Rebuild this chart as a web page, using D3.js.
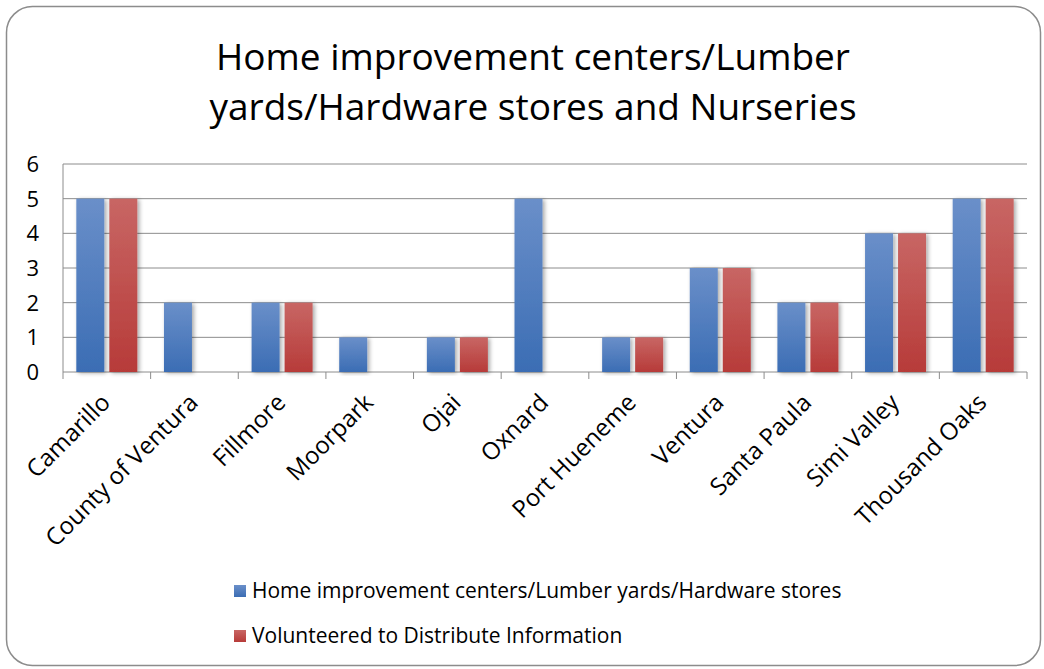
<!DOCTYPE html>
<html lang='en'>
<head>
<meta charset='utf-8'>
<title>Home improvement centers</title>
<script src='https://d3js.org/d3.v7.min.js'></script>
<style>
  body { margin: 0; background: #fff; }
  text { font-family: 'Open Sans', 'Noto Sans', sans-serif; fill: #000; }
</style>
</head>
<body>
<script>
'use strict'
const cities = ['Camarillo', 'County of Ventura', 'Fillmore', 'Moorpark', 'Ojai', 'Oxnard',
  'Port Hueneme', 'Ventura', 'Santa Paula', 'Simi Valley', 'Thousand Oaks']
const stores = [5, 2, 2, 1, 1, 5, 1, 3, 2, 4, 5]
const volunteered = [5, 0, 2, 0, 1, 0, 1, 3, 2, 4, 5]
const seriesNames = ['Home improvement centers/Lumber yards/Hardware stores',
  'Volunteered to Distribute Information']
const yTicks = [0, 1, 2, 3, 4, 5, 6]

const width = 1044, height = 669
const plot = {left: 63, right: 1027, top: 164, bottom: 372}

const svg = d3.select('body').append('svg')
  .attr('width', width).attr('height', height)

const defs = svg.append('defs')
function grad(id, top, bottom) {
  const g = defs.append('linearGradient').attr('id', id)
    .attr('x1', 0).attr('y1', 0).attr('x2', 0).attr('y2', 1)
  g.append('stop').attr('offset', '0%').attr('stop-color', top)
  g.append('stop').attr('offset', '100%').attr('stop-color', bottom)
}
grad('gBlue', '#6a8fc9', '#3b6db4')
grad('gRed', '#c86664', '#b73b39')
const shadow = defs.append('filter').attr('id', 'shadow')
  .attr('x', '-30%').attr('y', '-10%').attr('width', '160%').attr('height', '120%')
shadow.append('feDropShadow').attr('dx', 2).attr('dy', 1).attr('stdDeviation', 2)
  .attr('flood-color', '#000').attr('flood-opacity', 0.35)

// outer frame
svg.append('rect')
  .attr('x', 6.5).attr('y', 6.5).attr('width', 1034).attr('height', 659)
  .attr('rx', 26).attr('fill', '#fff').attr('stroke', '#8c8c8c').attr('stroke-width', 1.5)

// title
svg.append('text').attr('x', 533).attr('y', 70).attr('text-anchor', 'middle')
  .attr('font-size', 37).text('Home improvement centers/Lumber')
svg.append('text').attr('x', 533).attr('y', 120).attr('text-anchor', 'middle')
  .attr('font-size', 37).text('yards/Hardware stores and Nurseries')

const x = d3.scaleBand().domain(cities).range([plot.left, plot.right])
const y = d3.scaleLinear().domain([0, 6]).range([plot.bottom, plot.top])

// gridlines
svg.append('g').selectAll('line').data(yTicks).join('line')
  .attr('x1', plot.left).attr('x2', plot.right)
  .attr('y1', d => y(d)).attr('y2', d => y(d))
  .attr('stroke', '#8c8c8c').attr('stroke-width', 1)

// y axis
svg.append('line').attr('x1', plot.left).attr('x2', plot.left)
  .attr('y1', plot.top).attr('y2', plot.bottom).attr('stroke', '#8c8c8c')
svg.append('g').selectAll('text').data(yTicks).join('text')
  .attr('x', 39).attr('y', d => y(d) + 8).attr('text-anchor', 'end')
  .attr('font-size', 22).text(d => d)

// x ticks at category boundaries
const bounds = cities.map(c => x(c)).concat([plot.right])
svg.append('g').selectAll('line').data(bounds).join('line')
  .attr('x1', d => d).attr('x2', d => d)
  .attr('y1', plot.bottom).attr('y2', plot.bottom + 7)
  .attr('stroke', '#8c8c8c')

// bars
const barW = 28, gap = 5
const groups = svg.append('g').selectAll('g').data(cities).join('g')
  .attr('transform', d => `translate(${x(d) + x.bandwidth() / 2},0)`)
groups.filter((d, i) => stores[i] > 0).append('rect')
  .attr('x', -barW - gap / 2)
  .attr('y', d => y(stores[cities.indexOf(d)]))
  .attr('width', barW)
  .attr('height', d => plot.bottom - y(stores[cities.indexOf(d)]))
  .attr('fill', 'url(#gBlue)').attr('filter', 'url(#shadow)')
groups.filter((d, i) => volunteered[i] > 0).append('rect')
  .attr('x', gap / 2)
  .attr('y', d => y(volunteered[cities.indexOf(d)]))
  .attr('width', barW)
  .attr('height', d => plot.bottom - y(volunteered[cities.indexOf(d)]))
  .attr('fill', 'url(#gRed)').attr('filter', 'url(#shadow)')

// category labels
svg.append('g').selectAll('text').data(cities).join('text')
  .attr('transform', d => `translate(${x(d) + x.bandwidth() / 2 + 5},${plot.bottom + 32}) rotate(-45)`)
  .attr('text-anchor', 'end').attr('font-size', 24).text(d => d)

// legend
const legend = svg.append('g').selectAll('g').data(seriesNames).join('g')
  .attr('transform', (d, i) => `translate(234,${591 + i * 45})`)
legend.append('rect').attr('x', 0).attr('y', -6).attr('width', 12).attr('height', 12)
  .attr('fill', (d, i) => i === 0 ? 'url(#gBlue)' : 'url(#gRed)')
legend.append('text').attr('x', 18).attr('y', 7).attr('font-size', 21).text(d => d)
</script>
</body>
</html>
